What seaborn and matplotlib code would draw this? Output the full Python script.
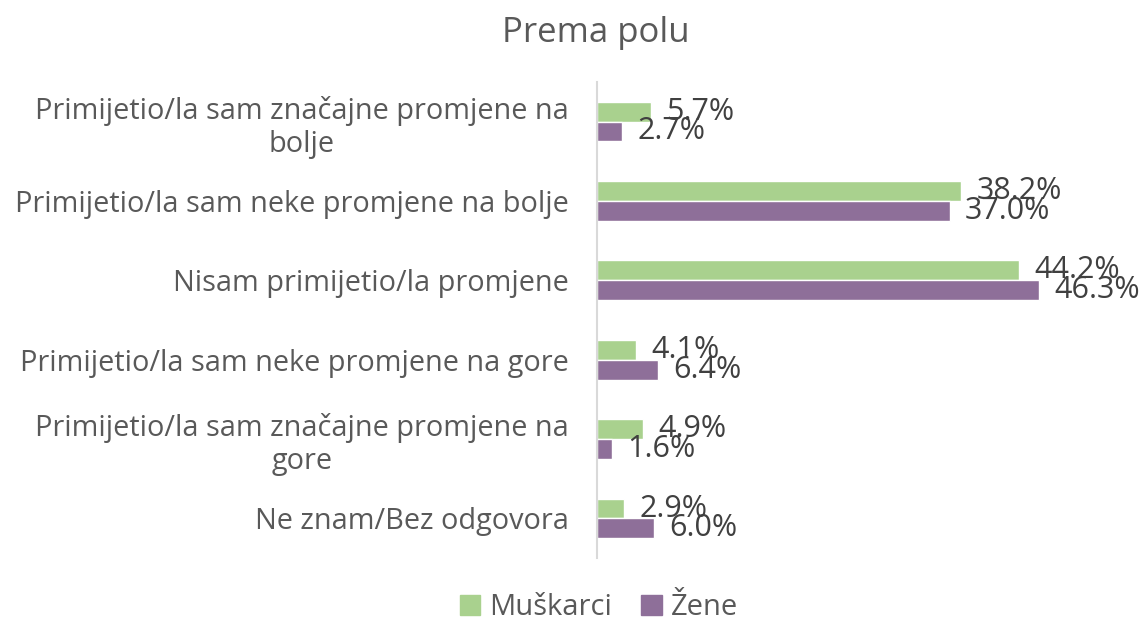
import pandas as pd
import matplotlib.pyplot as plt
import seaborn as sns

categories = [
    'Primijetio/la sam značajne promjene na\nbolje',
    'Primijetio/la sam neke promjene na bolje',
    'Nisam primijetio/la promjene',
    'Primijetio/la sam neke promjene na gore',
    'Primijetio/la sam značajne promjene na\ngore',
    'Ne znam/Bez odgovora',
]
series = ['Muškarci', 'Žene']
muskarci = [5.7, 38.2, 44.2, 4.1, 4.9, 2.9]
zene = [2.7, 37.0, 46.3, 6.4, 1.6, 6.0]
colors = ['#A9D18E', '#8E6F99']

df = pd.DataFrame({
    'kategorija': categories * 2,
    'pol': [series[0]] * len(categories) + [series[1]] * len(categories),
    'vrijednost': muskarci + zene,
})

sns.set_style('white')
plt.rcParams['font.family'] = ['Open Sans', 'DejaVu Sans']

fig = plt.figure(figsize=(11.45, 6.25), dpi=100)
ax = fig.add_axes([0.521, 0.107, 0.417, 0.762])

sns.barplot(data=df, y='kategorija', x='vrijednost', hue='pol',
            order=categories, hue_order=series, palette=colors,
            orient='h', width=0.5, saturation=1, ax=ax)

for cont in ax.containers:
    ax.bar_label(cont, labels=[f'{v:.1f}%' for v in cont.datavalues],
                 padding=11, fontsize=22, color='#404040')

ax.set_xlim(0, 50)
ax.set_xlabel('')
ax.set_ylabel('')
ax.set_xticks([])
for s in ['top', 'right', 'bottom']:
    ax.spines[s].set_visible(False)
ax.spines['left'].set_color('#D9D9D9')
ax.spines['left'].set_linewidth(1.5)
ax.tick_params(axis='y', length=0, pad=20, labelsize=20.8, labelcolor='#595959')
for t in ax.get_yticklabels():
    t.set_multialignment('center')

fig.suptitle('Prema polu', x=0.52, y=0.975, fontsize=25, color='#595959')

ax.legend_.remove()
handles = [plt.Rectangle((0, 0), 1, 1, color=c) for c in colors]
fig.legend(handles, series, loc='center', bbox_to_anchor=(0.523, 0.028),
           ncol=2, frameon=False, fontsize=21, handlelength=0.7, handleheight=0.7,
           handletextpad=0.3, columnspacing=1.0, labelcolor='#595959',
           borderpad=0.2)

fig.savefig('out.png', dpi=100)
